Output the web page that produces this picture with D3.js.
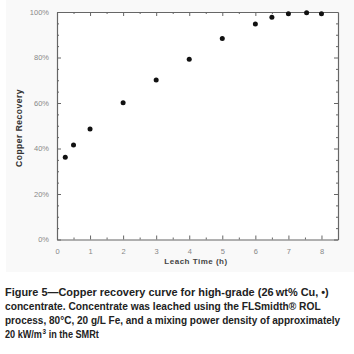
<!DOCTYPE html>
<html><head><meta charset="utf-8">
<script src="https://cdn.jsdelivr.net/npm/d3@7"></script>
<style>body{margin:0;background:#fff}svg{display:block}</style>
</head><body>
<svg id="c" width="354" height="354"></svg>
<script>
const leachTime = [0.25, 0.5, 1, 2, 3, 4, 5, 6, 6.5, 7, 7.55, 8];
const recovery  = [36.1, 41.5, 48.6, 60.1, 70.1, 79.2, 88.4, 94.7, 97.7, 99.2, 99.7, 99.2];
const xTicks = [0, 1, 2, 3, 4, 5, 6, 7, 8];
const yTicks = [0, 20, 40, 60, 80, 100];
const captionLines = [
  "Figure 5\u2014Copper recovery curve for high-grade (26\u2009wt% Cu, \u2022)",
  "concentrate. Concentrate was leached using the FLSmidth\u00AE ROL",
  "process, 80\u00B0C, 20 g/L Fe, and a mixing power density of approximately"
];
const captionWidths = [324, 316, 336];
const lastLine = ["20 kW/m", "3", "in the SMRt"];
const lastWidth = 94;

const svg = d3.select("#c");
svg.append("rect").attr("x",6).attr("y",0).attr("width",348).attr("height",272).attr("fill","#f9f9f9");

const L=57, R=338, T=12, B=239.5;
const x = d3.scaleLinear().domain([0,8.5]).range([L,R]);
const y = d3.scaleLinear().domain([0,100]).range([B,T]);

const g = svg.append("g");
g.append("rect").attr("x",L).attr("y",T).attr("width",R-L).attr("height",B-T).attr("fill","#fff");

const axCol = "#666";
const FONT = "Liberation Sans, Arial, sans-serif";
const xMinor = d3.range(0,8.5,0.5).filter(v=>v%1!==0);
const mkX = (pos, dir) => {
  const ax = (dir==="bottom"? d3.axisBottom(x) : d3.axisTop(x)).tickValues(xTicks).tickSizeInner(-4).tickSizeOuter(0);
  const gg = g.append("g").attr("transform",`translate(0,${pos})`).call(ax);
  const ax2 = (dir==="bottom"? d3.axisBottom(x) : d3.axisTop(x)).tickValues(xMinor).tickSizeInner(-2).tickSizeOuter(0).tickFormat("");
  const g2 = g.append("g").attr("transform",`translate(0,${pos})`).call(ax2);
  g2.select(".domain").remove();
  return gg;
};
const gx = mkX(B,"bottom");
gx.selectAll("text").attr("dy","0").attr("y",14);
const gxt = mkX(T,"top");
gxt.selectAll("text").remove();

const yMinor = d3.range(5,100,5).filter(v=>v%20!==0);
const mkY = (pos, dir) => {
  const ax = (dir==="left"? d3.axisLeft(y) : d3.axisRight(y)).tickValues(yTicks).tickSizeInner(-4).tickSizeOuter(0).tickFormat(d=>d+"%");
  const gg = g.append("g").attr("transform",`translate(${pos},0)`).call(ax);
  const ax2 = (dir==="left"? d3.axisLeft(y) : d3.axisRight(y)).tickValues(yMinor).tickSizeInner(-2).tickSizeOuter(0).tickFormat("");
  const g2 = g.append("g").attr("transform",`translate(${pos},0)`).call(ax2);
  g2.select(".domain").remove();
  return gg;
};
const gy = mkY(L,"left");
gy.selectAll("text").attr("x",-8);
const gyr = mkY(R,"right");
gyr.selectAll("text").remove();

g.selectAll(".domain").attr("stroke",axCol).attr("stroke-width",1.2);
g.selectAll(".tick line").attr("stroke",axCol);
g.selectAll(".tick text").attr("fill","#888").attr("font-family",FONT).attr("font-size",7.5);

// points
g.selectAll("circle.pt").data(leachTime.map((t,i)=>[t,recovery[i]])).join("circle")
  .attr("class","pt").attr("cx",d=>x(d[0])).attr("cy",d=>y(d[1])).attr("r",2.5).attr("fill","#111");

// axis titles
svg.append("text").attr("x",196).attr("y",264).attr("text-anchor","middle")
  .attr("font-family",FONT).attr("font-size",8).attr("font-weight","bold")
  .attr("fill","#444").attr("letter-spacing",0.5).text("Leach Time (h)");
svg.append("text").attr("transform","translate(22,128) rotate(-90)").attr("text-anchor","middle")
  .attr("font-family",FONT).attr("font-size",8.5).attr("font-weight","bold")
  .attr("fill","#333").attr("letter-spacing",0.5).text("Copper Recovery");

// caption: each line drawn at natural size, then squeezed horizontally to the reference width
const cap = svg.append("g");
const fitLine = (grp, target, x0, y0) => {
  const w = grp.node().getBBox().width;
  grp.attr("transform",`translate(${x0},${y0}) scale(${target/w},1)`);
};
captionLines.forEach((s,i)=>{
  const lg = cap.append("g");
  lg.append("text").attr("x",0).attr("y",0)
    .attr("font-family",FONT).attr("font-size",11.5).attr("font-weight","bold")
    .attr("fill","#222").text(s);
  fitLine(lg, captionWidths[i], 5, 296+i*14);
});
const lg = cap.append("g");
const t1 = lg.append("text").attr("x",0).attr("y",0).attr("font-family",FONT).attr("font-size",11.5)
  .attr("font-weight","bold").attr("fill","#222").text(lastLine[0]);
const w1 = t1.node().getComputedTextLength();
const t2 = lg.append("text").attr("x",w1+0.5).attr("y",-4).attr("font-family",FONT).attr("font-size",8)
  .attr("font-weight","bold").attr("fill","#222").text(lastLine[1]);
const w2 = t2.node().getComputedTextLength();
lg.append("text").attr("x",w1+w2+4).attr("y",0).attr("font-family",FONT).attr("font-size",11.5)
  .attr("font-weight","bold").attr("fill","#222").text(lastLine[2]);
fitLine(lg, lastWidth, 5, 296+3*14);
</script>
</body></html>
